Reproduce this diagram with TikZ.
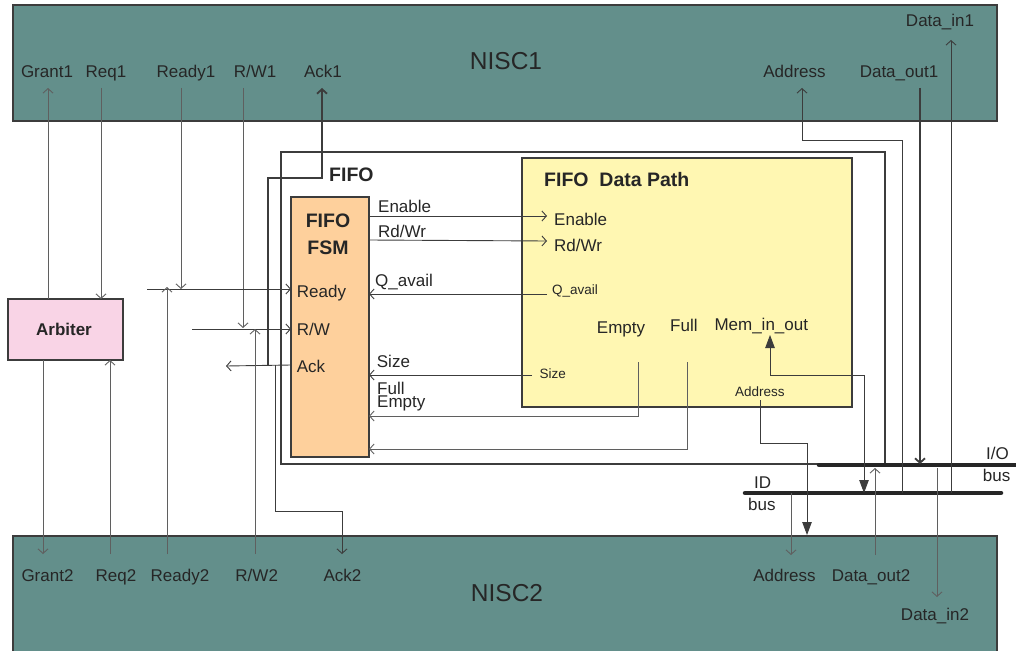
\documentclass[tikz,border=0pt]{standalone}
\usepackage{fontspec}
\setmainfont{Liberation Sans}
\usetikzlibrary{arrows.meta}
\definecolor{niscfill}{RGB}{99,143,139}
\definecolor{arbfill}{RGB}{249,212,230}
\definecolor{fsmfill}{RGB}{254,208,156}
\definecolor{dpfill}{RGB}{255,247,178}
\definecolor{txt}{RGB}{38,38,38}
\definecolor{lc}{RGB}{60,60,60}
\definecolor{lcl}{RGB}{95,95,95}
\begin{document}
\begin{tikzpicture}[x=1pt,y=-1pt,
  >={Straight Barb[length=4.5pt,width=10pt]},
  tri/.tip={Triangle[length=13pt,width=9.5pt]},
  box/.style={draw=lc, line width=1.6pt, inner sep=0pt, outer sep=0pt, anchor=north west},
  lbl/.style={font=\fontsize{17}{20}\selectfont, text=txt, inner sep=0pt, anchor=base},
  lblw/.style={lbl, anchor=base west},
  sml/.style={font=\fontsize{13.5}{16}\selectfont, text=txt, inner sep=0pt, anchor=base west},
  bld/.style={font=\bfseries\fontsize{19.5}{22}\selectfont, text=txt, inner sep=0pt, anchor=base},
  wire/.style={draw=lc, line width=0.9pt},
  wirel/.style={draw=lcl, line width=0.9pt},
  heavy/.style={draw=lc, line width=1.8pt},
  busline/.style={draw=black!85, line width=4.5pt, line cap=round}]
\useasboundingbox (0,0) rectangle (1016,650);

% boxes
\node[box, fill=niscfill, minimum width=984pt, minimum height=116pt] (nisc1) at (13,5) {};
\node[box, fill=niscfill, minimum width=984pt, minimum height=130pt] (nisc2) at (13,536) {};
\node[box, fill=arbfill, line width=1.2pt, minimum width=115pt, minimum height=61pt] (arb) at (8,299) {};
\node[box, line width=1.8pt, minimum width=604pt, minimum height=312pt] (fifo) at (281,152) {};
\node[box, fill=fsmfill, minimum width=78pt, minimum height=260pt] (fsm) at (291,197) {};
\node[box, fill=dpfill, minimum width=330pt, minimum height=249pt] (dp) at (522,158) {};

% box labels
\node[lbl, font=\fontsize{24.5}{28}\selectfont] (n1lab) at (506,70) {NISC1};
\node[lbl, font=\fontsize{24.5}{28}\selectfont] (n2lab) at (507,601) {NISC2};
\node[bld, font=\bfseries\fontsize{17}{20}\selectfont] (arblab) at (64,335) {Arbiter};
\node[bld, anchor=base west] (fifolab) at (329,181.7) {FIFO};
\node[bld] (fsmlab1) at (328,227.3) {FIFO};
\node[bld] (fsmlab2) at (328,254) {FSM};
\node[bld, anchor=base west] (dplab) at (544,186) {FIFO\ \ Data Path};

% NISC1 labels
\node[lbl] (g1) at (47,78) {Grant1};
\node[lbl] (r1) at (106,78) {Req1};
\node[lbl] (rd1) at (186,78) {Ready1};
\node[lbl] (rw1) at (255,78) {R/W1};
\node[lbl] (a1) at (323,78) {Ack1};
\node[lbl] (ad1) at (794.5,78) {Address};
\node[lbl] (do1) at (899,78) {Data\_out1};
\node[lbl] (di1) at (940,26.5) {Data\_in1};
% NISC2 labels
\node[lbl] (g2) at (47.5,581.5) {Grant2};
\node[lbl] (r2) at (116,581.5) {Req2};
\node[lbl] (rd2) at (180,581.5) {Ready2};
\node[lbl] (rw2) at (256.7,581.5) {R/W2};
\node[lbl] (a2) at (342.5,581.5) {Ack2};
\node[lbl] (ad2) at (784.5,581.5) {Address};
\node[lbl] (do2) at (871,581.5) {Data\_out2};
\node[lbl] (di2) at (935,620) {Data\_in2};
% FSM labels
\node[lblw] (fready) at (296.7,297) {Ready};
\node[lblw] (frw) at (296.7,335) {R/W};
\node[lblw] (fack) at (296.7,372) {Ack};
\node[lblw] (len) at (378,212) {Enable};
\node[lblw] (lrw) at (378,237.3) {Rd/Wr};
\node[lblw] (lqa) at (375,286.7) {Q\_avail};
\node[lblw] (lsz) at (376.7,367.3) {Size};
\node[lblw] (lfu) at (377,394.3) {Full};
\node[lblw] (lem) at (377,407.2) {Empty};
% data path labels
\node[lblw] (den) at (554,225.3) {Enable};
\node[lblw] (drw) at (554,251.7) {Rd/Wr};
\node[sml] (dqa) at (552,294) {Q\_avail};
\node[lbl] (dem) at (621,333.3) {Empty};
\node[lblw] (dfu) at (670,331.7) {Full};
\node[lblw] (dmem) at (714.3,330) {Mem\_in\_out};
\node[sml] (dsz) at (539.3,378.3) {Size};
\node[sml] (dad) at (735,396) {Address};
% bus labels
\node[lblw] (iol) at (986,459) {I/O};
\node[lblw] (iob) at (982.7,481.7) {bus};
\node[lblw] (idl) at (754,488.3) {ID};
\node[lblw] (idb) at (748,510) {bus};

% buses
\coordinate (ioA) at (819,465);
\coordinate (ioB) at (1016,465);
\coordinate (idA) at (745,493);
\coordinate (idB) at (1001,493);
\draw[busline] (ioA) -- (ioB);
\draw[busline] (idA) -- (idB);

% port coordinates
\coordinate (g1t) at (48,88);   \coordinate (g1b) at (48,299);
\coordinate (r1t) at (101,88);  \coordinate (r1b) at (101,299);
\coordinate (rd1t) at (181,88); \coordinate (rd1b) at (181,289);
\coordinate (rw1t) at (243,88); \coordinate (rw1b) at (243,328);
\coordinate (a1t) at (322,88);
\coordinate (ackin) at (291,365); \coordinate (ackout) at (226,366);
\coordinate (readyL) at (147,289); \coordinate (readyR) at (291,289);
\coordinate (rwL) at (192,329); \coordinate (rwR) at (291,329);
\coordinate (rd2b) at (167,554); \coordinate (rd2t) at (167,287);
\coordinate (rw2b) at (255,554); \coordinate (rw2t) at (255,329);
\coordinate (g2t) at (43,360); \coordinate (g2b) at (43,554);
\coordinate (r2b) at (110,554); \coordinate (r2t) at (110,360);
\coordinate (a2b) at (342,554);

% NISC1 <-> arbiter / FSM
\draw[wirel,->] (g1b) -- (g1t);
\draw[wirel,->] (r1t) -- (r1b);
\draw[wirel,->] (rd1t) -- (rd1b);
\draw[wirel,->] (rw1t) -- (rw1b);
\draw[wire,->] (readyL) -- (readyR);
\draw[wire,->] (rwL) -- (rwR);
\draw[wire,->] (ackin) -- (ackout);
\draw[heavy,->] (268,365) -- (268,178) -- (322,178) -- (a1t);
\draw[wire,->] (275,365) -- (275,511) -- (342,511) -- (a2b);
% NISC2 <-> arbiter / FSM
\draw[wirel,->] (rd2b) -- (rd2t);
\draw[wirel,->] (rw2b) -- (rw2t);
\draw[wirel,->] (g2t) -- (g2b);
\draw[wirel,->] (r2b) -- (r2t);

% FSM <-> data path
\draw[wire,->] (369,216) -- (547,216);
\draw[wire,->] (369,240) -- (547,241);
\draw[wire,->] (547,294) -- (369,294);
\draw[wire,->] (532,375) -- (369,375);
\draw[wirel,->] (638,362) -- (638,416) -- (369,416);
\draw[wirel,->] (687,362) -- (687,449) -- (369,449);

% data path <-> buses / NISC
\draw[wire,tri-tri] (864,493) -- (864,375) -- (770,375) -- (770,335);
\draw[wire,-tri] (760,400) -- (760,443) -- (807,443) -- (807,535);
\draw[wire,->] (902,493) -- (902,140) -- (802,140) -- (802,88);
\draw[heavy,->] (920,88) -- (920,464);
\draw[wire,->] (951,493) -- (951,40);
\draw[wirel,->] (791,493) -- (791,555);
\draw[wirel,->] (875,555) -- (875,468);
\draw[wirel,->] (937,468) -- (937,597);
\end{tikzpicture}
\end{document}
